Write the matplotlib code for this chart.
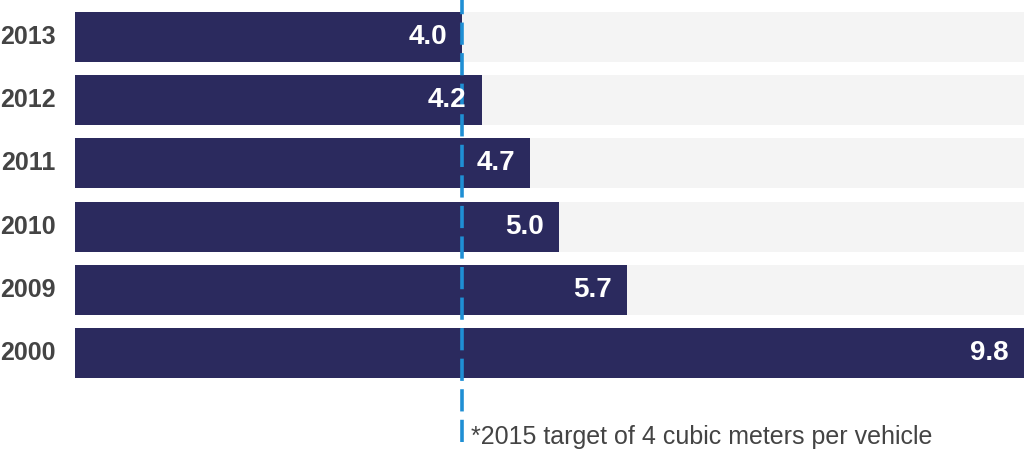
import matplotlib
matplotlib.use('Agg')
import matplotlib.pyplot as plt

plt.rcParams['font.family'] = ['Liberation Sans', 'DejaVu Sans']
plt.rcParams['lines.scale_dashes'] = False

years = ['2013', '2012', '2011', '2010', '2009', '2000']
values = [4.0, 4.2, 4.7, 5.0, 5.7, 9.8]
target = 4.0
note = '*2015 target of 4 cubic meters per vehicle'

bar_color = '#2b2a5e'
back_color = '#f4f4f4'
line_color = '#1f8fd4'

fig = plt.figure(figsize=(10.24, 4.5), dpi=100)
ax = fig.add_axes([75 / 1024, 0, 949 / 1024, 1])

xmax = max(values)
pos = list(range(len(years)))
ax.barh(pos, [xmax] * len(years), height=0.79, color=back_color, zorder=1)
ax.barh(pos, values, height=0.79, color=bar_color, zorder=2)

for p, v in zip(pos, values):
    ax.annotate(f'{v:.1f}', xy=(v, p), xytext=(-11, 0), textcoords='offset points',
                ha='right', va='center', color='white', fontsize=20,
                fontweight='bold', zorder=4)
    ax.annotate(years[p], xy=(0, p), xytext=(-14, 0), textcoords='offset points',
                ha='right', va='center', color='#444444', fontsize=18,
                fontweight='bold', annotation_clip=False)

ax.axvline(target, ymin=0.018, ymax=1, color=line_color, lw=2.6,
           dashes=(16, 6), zorder=3)

ax.text(target + 0.09, 6.33, note, ha='left', va='center', fontsize=18,
        color='#444444')

ax.set_xlim(0, xmax)
ax.set_ylim(6.535, -0.585)
ax.axis('off')

fig.savefig('out.png', dpi=100)
